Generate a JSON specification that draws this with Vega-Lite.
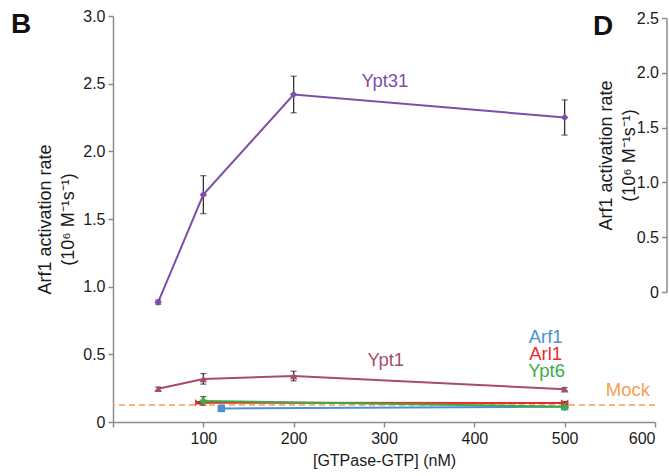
{
  "$schema": "https://vega.github.io/schema/vega-lite/v6.json",
  "autosize": {"type": "none"},
  "padding": {"left": 113, "top": 16, "right": 14, "bottom": 54},
  "width": 542,
  "height": 406,
  "config": {
    "view": {"stroke": null},
    "font": "Liberation Sans",
    "axis": {"domainColor": "#8c8c8c", "tickColor": "#8c8c8c", "domainWidth": 1.5, "tickWidth": 1.5, "tickSize": 5, "labelFont": "Liberation Sans", "labelFontSize": 16, "labelColor": "#1a1a1a", "titleFont": "Liberation Sans", "titleFontWeight": "normal", "titleColor": "#1a1a1a", "grid": false}
  },
  "datasets": {
    "points": [
      {"series": "Ypt31", "x": 50, "y": 0.885, "lo": 0.87, "hi": 0.9},
      {"series": "Ypt31", "x": 100, "y": 1.68, "lo": 1.54, "hi": 1.82},
      {"series": "Ypt31", "x": 200, "y": 2.42, "lo": 2.285, "hi": 2.555},
      {"series": "Ypt31", "x": 500, "y": 2.25, "lo": 2.12, "hi": 2.38},
      {"series": "Ypt1", "x": 50, "y": 0.245, "lo": 0.232, "hi": 0.258},
      {"series": "Ypt1", "x": 100, "y": 0.318, "lo": 0.28, "hi": 0.358},
      {"series": "Ypt1", "x": 200, "y": 0.34, "lo": 0.305, "hi": 0.375},
      {"series": "Ypt1", "x": 500, "y": 0.242, "lo": 0.23, "hi": 0.254},
      {"series": "Arf1", "x": 120, "y": 0.1, "lo": 0.09, "hi": 0.11},
      {"series": "Arf1", "x": 500, "y": 0.113, "lo": 0.1, "hi": 0.126},
      {"series": "Arl1", "x": 95, "y": 0.143, "lo": 0.135, "hi": 0.151},
      {"series": "Arl1", "x": 500, "y": 0.14, "lo": 0.128, "hi": 0.152},
      {"series": "Ypt6", "x": 100, "y": 0.155, "lo": 0.125, "hi": 0.188},
      {"series": "Ypt6", "x": 500, "y": 0.113, "lo": 0.103, "hi": 0.123}
    ],
    "labels": [
      {"series": "Ypt31", "label": "Ypt31", "x": 301, "y": 2.52},
      {"series": "Ypt1", "label": "Ypt1", "x": 302, "y": 0.46},
      {"series": "Arf1", "label": "Arf1", "x": 479, "y": 0.628},
      {"series": "Arl1", "label": "Arl1", "x": 479, "y": 0.505},
      {"series": "Ypt6", "label": "Ypt6", "x": 480, "y": 0.38},
      {"series": "Mock", "label": "Mock", "x": 570, "y": 0.233}
    ],
    "panels": [
      {"panel": "B", "x": -101.8, "y": 2.875},
      {"panel": "D", "x": 542.5, "y": 2.86}
    ],
    "mock": [{"series": "Mock", "y": 0.126}],
    "panelD": [{"v": 0}, {"v": 2.5}]
  },
  "layer": [
    {
      "layer": [
        {
          "data": {"name": "mock"},
          "mark": {"type": "rule", "strokeDash": [6, 4], "strokeWidth": 1.5},
          "encoding": {
            "y": {"field": "y", "type": "quantitative"},
            "color": {"field": "series", "type": "nominal", "legend": null}
          }
        },
        {
          "data": {"name": "points"},
          "mark": {"type": "line", "strokeWidth": 2},
          "encoding": {
            "x": {"field": "x", "type": "quantitative"},
            "y": {"field": "y", "type": "quantitative"},
            "color": {"field": "series", "type": "nominal", "legend": null},
            "detail": {"field": "series"}
          }
        },
        {
          "data": {"name": "points"},
          "mark": {"type": "errorbar", "ticks": {"size": 6, "color": "#222222", "thickness": 1.2}, "rule": {"color": "#222222", "strokeWidth": 1.2}},
          "encoding": {
            "x": {"field": "x", "type": "quantitative"},
            "y": {"field": "lo", "type": "quantitative"},
            "y2": {"field": "hi"}
          }
        },
        {
          "data": {"name": "points"},
          "mark": {"type": "point", "filled": true, "size": 55, "opacity": 1},
          "encoding": {
            "x": {"field": "x", "type": "quantitative"},
            "y": {"field": "y", "type": "quantitative"},
            "color": {"field": "series", "type": "nominal", "legend": null},
            "shape": {"field": "series", "type": "nominal", "legend": null,
              "scale": {"domain": ["Ypt31", "Ypt1", "Arf1", "Arl1", "Ypt6"], "range": ["diamond", "triangle-up", "square", "M-1,-1L1,1L1,-1L-1,1Z", "cross"]}}
          }
        },
        {
          "data": {"name": "labels"},
          "mark": {"type": "text", "fontSize": 18.5, "font": "Liberation Sans", "align": "center", "baseline": "middle"},
          "encoding": {
            "x": {"field": "x", "type": "quantitative"},
            "y": {"field": "y", "type": "quantitative"},
            "text": {"field": "label"},
            "color": {"field": "series", "type": "nominal", "legend": null}
          }
        },
        {
          "data": {"name": "panels"},
          "mark": {"type": "text", "fontSize": 28, "fontWeight": "bold", "font": "Liberation Sans", "align": "center", "baseline": "alphabetic", "color": "#111111"},
          "encoding": {
            "x": {"field": "x", "type": "quantitative"},
            "y": {"field": "y", "type": "quantitative"},
            "text": {"field": "panel"}
          }
        }
      ],
      "encoding": {
        "x": {"type": "quantitative",
          "scale": {"domain": [0, 600], "nice": false},
          "axis": {"values": [0, 100, 200, 300, 400, 500, 600], "labelExpr": "datum.value == 0 ? '' : datum.label", "title": "[GTPase-GTP] (nM)", "titleFontSize": 16, "labelPadding": 3, "titlePadding": 6}},
        "y": {"type": "quantitative",
          "scale": {"domain": [0, 3], "nice": false},
          "axis": {"values": [0, 0.5, 1, 1.5, 2, 2.5, 3], "labelExpr": "datum.value == 0 ? '0' : format(datum.value, '.1f')", "title": ["Arf1 activation rate", "(10⁶ M⁻¹s⁻¹)"], "titleFontSize": 18, "titleLineHeight": 23, "titlePadding": 5, "labelPadding": 3}},
        "color": {"scale": {"domain": ["Ypt31", "Ypt1", "Arf1", "Arl1", "Ypt6", "Mock"], "range": ["#7d4ea8", "#a64a72", "#4f8fd6", "#ec2a2e", "#3aad45", "#f7a050"]}}
      }
    },
    {
      "data": {"name": "panelD"},
      "mark": {"type": "point", "opacity": 0},
      "encoding": {
        "y": {"field": "v", "type": "quantitative",
          "scale": {"domain": [0, 2.5], "nice": false, "range": [276, 2]},
          "axis": {"orient": "left", "offset": -553.5, "values": [0, 0.5, 1, 1.5, 2, 2.5], "labelExpr": "datum.value == 0 ? '0' : format(datum.value, '.1f')", "title": ["Arf1 activation rate", "(10⁶ M⁻¹s⁻¹)"], "titleFontSize": 18, "titleLineHeight": 23, "titlePadding": -2, "labelPadding": 3}}
      }
    }
  ],
  "resolve": {"scale": {"y": "independent"}, "axis": {"y": "independent"}}
}
